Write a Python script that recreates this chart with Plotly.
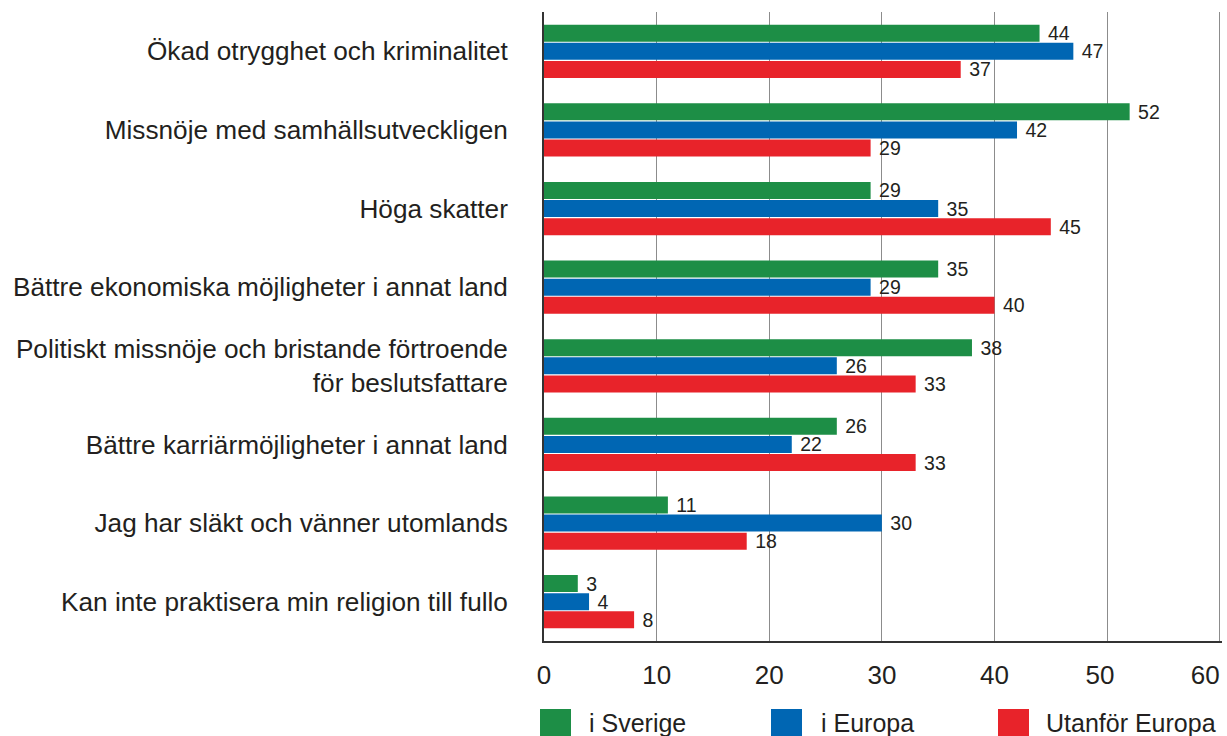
import plotly.graph_objects as go

# Data
categories = [
    "Ökad otrygghet och kriminalitet",
    "Missnöje med samhällsutveckligen",
    "Höga skatter",
    "Bättre ekonomiska möjligheter i annat land",
    "Politiskt missnöje och bristande förtroende<br>för beslutsfattare",
    "Bättre karriärmöjligheter i annat land",
    "Jag har släkt och vänner utomlands",
    "Kan inte praktisera min religion till fullo",
]
i_sverige = [44, 52, 29, 35, 38, 26, 11, 3]
i_europa = [47, 42, 35, 29, 26, 22, 30, 4]
utanfor_europa = [37, 29, 45, 40, 33, 33, 18, 8]
series_names = ["i Sverige", "i Europa", "Utanför Europa"]
colors = ["#1D8E46", "#0066B3", "#E8232A"]
x_ticks = [0, 10, 20, 30, 40, 50, 60]
x_tick_labels = ["0", "10", "20", "30", "40", "50", "60"]

FONT = "Liberation Sans, Arial, sans-serif"
TEXT_COLOR = "#231F20"

W, H = 1227, 736
L, R, T, B = 544, 5, 12, 95

fig = go.Figure()
for name, vals, col in zip(series_names, [i_sverige, i_europa, utanfor_europa], colors):
    fig.add_trace(
        go.Bar(
            y=categories,
            x=vals,
            name=name,
            orientation="h",
            marker=dict(color=col, line=dict(width=0)),
            text=vals,
            texttemplate="\u00a0%{x}",
            textposition="outside",
            constraintext="none",
            textfont=dict(size=19.5, color=TEXT_COLOR, family=FONT),
            cliponaxis=False,
            showlegend=False,
        )
    )

fig.update_layout(
    width=W,
    height=H,
    margin=dict(l=L, r=R, t=T, b=B, autoexpand=False),
    paper_bgcolor="white",
    plot_bgcolor="white",
    barmode="group",
    bargap=0.31,
    bargroupgap=0.06,
    font=dict(family=FONT, color=TEXT_COLOR),
)

# the last two labels sit a little left of their gridlines in the original
pad = {"50": 2, "60": 4}
tick_text = [t + "\u00a0" * pad.get(t, 0) for t in x_tick_labels]

fig.update_xaxes(
    range=[0, 60.2],  # small overshoot so the 60 gridline is still drawn
    tickvals=x_ticks,
    ticktext=tick_text,
    automargin=False,
    showgrid=True,
    gridcolor="#8c8c8c",
    gridwidth=1.3,
    showline=True,
    linecolor="#333333",
    linewidth=1.7,
    ticks="",
    tickfont=dict(size=26, color=TEXT_COLOR),
    ticklabelstandoff=10,
    ticklabeloverflow="allow",
    zeroline=False,
    fixedrange=True,
)
fig.update_yaxes(
    autorange="reversed",
    automargin=False,
    showline=True,
    linecolor="#333333",
    linewidth=1.7,
    ticks="",
    tickfont=dict(size=26.2, color=TEXT_COLOR),
    ticklabelstandoff=29,
    showgrid=False,
    fixedrange=True,
)

# legend: big squares + labels below the axis
plot_w = W - L - R
plot_h = H - T - B


def px_x(p):
    return (p - L) / plot_w


def px_y(p):
    return (H - B - p) / plot_h


legend_sq = [540, 771, 998]
legend_txt = [587, 819, 1044]
for sx, tx, name, col in zip(legend_sq, legend_txt, series_names, colors):
    fig.add_shape(
        type="rect",
        xref="paper", yref="paper",
        x0=px_x(sx), x1=px_x(sx + 31),
        y0=px_y(738), y1=px_y(709),
        fillcolor=col, line=dict(width=0),
    )
    fig.add_annotation(
        xref="paper", yref="paper",
        x=px_x(tx), y=px_y(723),
        text=name, showarrow=False,
        xanchor="left", yanchor="middle",
        font=dict(size=25, color=TEXT_COLOR, family=FONT),
    )

# drop the default page margin so the figure fills the window exactly
fig.write_html(
    "out.html",
    config={"displayModeBar": False},
    post_script="document.body.style.margin='0';document.body.style.overflow='hidden';",
)
